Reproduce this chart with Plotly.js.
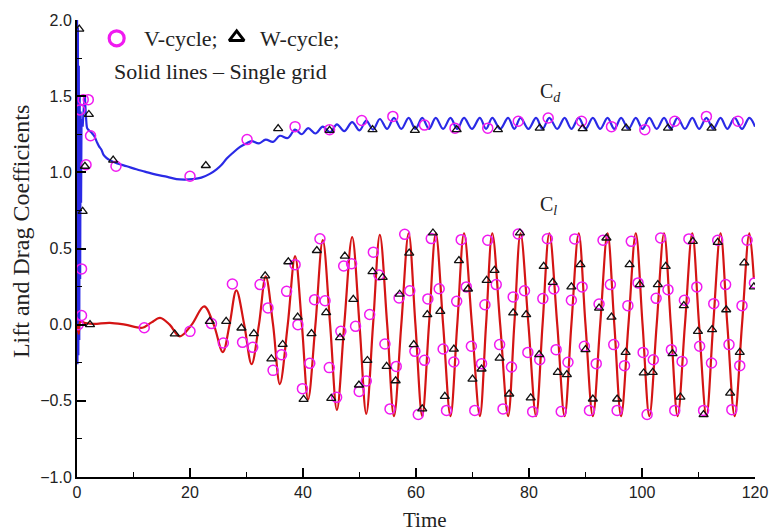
<!DOCTYPE html>
<html>
<head>
<meta charset="utf-8">
<script src="https://cdn.plot.ly/plotly-3.0.1.min.js"></script>
<style>html,body{margin:0;padding:0;background:#fff;}#chart{width:770px;height:532px;}</style>
</head>
<body>
<div id="chart"></div>
<script>
// ---- Cl (lift) curve, single grid: extrema and zero crossings
var clT = [0, 0.3, 0.6, 1.5, 3.0, 5.8, 8.5, 11.6, 13.2, 14.7, 16.4, 18.2, 20.3, 22.5, 24.2, 25.8, 27.0, 28.2, 29.6, 30.9,
  32.2, 33.4, 34.7, 35.9, 37.3, 38.6, 39.8, 40.9, 42.2, 43.5, 44.8, 46.0, 47.3, 48.7, 50.0, 51.2, 52.4, 53.6, 54.9, 56.1,
  57.4, 58.7, 59.9, 61.1, 62.3, 63.5, 64.8, 66.1, 67.3, 68.5, 69.9, 71.3, 72.4, 73.5, 74.9, 76.3, 77.4, 78.5, 79.9, 81.25,
  82.4, 83.6, 85.0, 86.3, 87.5, 88.8, 90.0, 91.3, 92.6, 93.9, 95.1, 96.3, 97.6, 98.9, 100.1, 101.3, 102.6, 103.9, 105.1, 106.3,
  107.6, 108.9, 110.1, 111.4, 112.6, 113.9, 115.1, 116.4, 117.7, 119.0, 119.8];
var clV = [0, -0.06, 0.02, 0.01, 0.005, 0.012, 0.0, -0.02, 0.015, 0.045, 0, -0.077, 0, 0.12, 0, -0.18, 0, 0.225, 0, -0.26,
  0, 0.317, 0, -0.39, 0, 0.45, 0, -0.49, 0, 0.555, 0, -0.56, 0, 0.575, 0, -0.585, 0, 0.59, 0, -0.60,
  0, 0.60, 0, -0.60, 0, 0.60, 0, -0.60, 0, 0.60, 0, -0.60, 0, 0.60, 0, -0.60, 0, 0.60, 0, -0.60,
  0, 0.60, 0, -0.60, 0, 0.60, 0, -0.60, 0, 0.60, 0, -0.60, 0, 0.60, 0, -0.60, 0, 0.60, 0, -0.60,
  0, 0.60, 0, -0.60, 0, 0.60, 0, -0.60, 0, 0.60, 0.30];

// ---- Cd (drag) curve: impulsive-start spike, then the smooth part
var cdSpikeT = [0, 0.08, 0.16, 0.24, 0.32, 0.4, 0.48, 0.56, 0.64, 0.72, 0.8, 1.0, 1.2, 1.4];
var cdSpikeV = [2.3, -0.26, 1.95, -0.2, 1.7, -0.1, 1.5, 0.3, 1.4, 0.8, 1.35, 1.3, 1.42, 1.50];
var cdT = [1.4, 1.6, 1.8, 2.0, 2.3, 2.7, 3.1, 3.5, 3.9, 4.3, 4.7, 5.2, 5.8, 7.0, 8.8, 10.5, 12.0, 14.0, 16.0, 17.6,
  19.0, 20.5, 22.0, 23.5, 24.7, 25.6, 26.5, 27.5, 28.8, 30.0, 30.9, 32.2, 33.4, 34.7, 35.9, 37.3, 38.6, 39.8, 40.9, 42.2,
  43.5, 44.8, 46.0, 47.3, 48.7, 50.0, 51.2, 52.4, 53.6, 54.9, 56.1, 57.4, 58.7, 59.9, 61.1, 62.3, 63.5, 64.8, 66.1, 67.3,
  68.5, 69.9, 71.3, 72.4, 73.5, 74.9, 76.3, 77.4, 78.5, 79.9, 81.25, 82.4, 83.6, 85.0, 86.3, 87.5, 88.8, 90.0, 91.3, 92.6,
  93.9, 95.1, 96.3, 97.6, 98.9, 100.1, 101.3, 102.6, 103.9, 105.1, 106.3, 107.6, 108.9, 110.1, 111.4, 112.6, 113.9, 115.1, 116.4, 117.7,
  119.0, 120.0];
var cdV = [1.50, 1.36, 1.29, 1.28, 1.27, 1.255, 1.235, 1.20, 1.17, 1.15, 1.115, 1.095, 1.08, 1.06, 1.04, 1.02, 1.005, 0.985, 0.97, 0.955,
  0.952, 0.955, 0.965, 0.99, 1.02, 1.05, 1.09, 1.125, 1.165, 1.19, 1.205, 1.19, 1.215, 1.20, 1.24, 1.225, 1.28, 1.25, 1.29, 1.255,
  1.30, 1.262, 1.315, 1.27, 1.33, 1.275, 1.34, 1.28, 1.35, 1.285, 1.357, 1.285, 1.357, 1.285, 1.357, 1.285, 1.357, 1.285, 1.357, 1.285,
  1.357, 1.285, 1.357, 1.285, 1.357, 1.285, 1.357, 1.285, 1.357, 1.285, 1.357, 1.285, 1.357, 1.285, 1.357, 1.285, 1.357, 1.285, 1.357, 1.285,
  1.357, 1.285, 1.357, 1.285, 1.357, 1.285, 1.357, 1.285, 1.357, 1.285, 1.357, 1.285, 1.357, 1.285, 1.357, 1.285, 1.357, 1.285, 1.357, 1.285,
  1.357, 1.30];

// ---- V-cycle markers (circles)
var clVcycT = [0.2, 0.8, 0.8, 11.9, 20.0, 23.8, 25.9, 27.5, 29.3, 31.1, 32.4, 33.8, 34.7, 36.2, 37.1, 38.6, 39.1, 39.9, 41.2, 42.05,
  43.0, 43.9, 44.65, 45.95, 46.7, 47.2, 48.6, 49.3, 49.95, 51.2, 51.8, 52.45, 53.45, 54.5, 55.4, 56.5, 57.0, 58.0, 58.9, 59.8,
  60.4, 61.5, 62.1, 62.7, 64.1, 64.8, 65.4, 66.7, 67.2, 68.0, 68.9, 69.8, 70.4, 71.6, 72.2, 72.7, 74.2, 74.8, 75.4, 76.9,
  77.2, 78.1, 79.2, 79.8, 80.65, 81.9, 82.45, 83.25, 84.4, 84.8, 85.7, 86.9, 87.5, 88.1, 89.4, 89.8, 90.7, 91.9, 92.4, 93.1,
  94.4, 95.0, 95.6, 96.9, 97.5, 98.1, 99.3, 100.2, 100.9, 102.0, 102.5, 103.3, 104.6, 105.2, 105.8, 107.1, 107.5, 108.3, 109.7, 110.2,
  110.9, 112.3, 112.7, 113.4, 114.8, 115.4, 115.9, 117.3, 117.7, 118.6, 119.9];
var clVcycV = [0.0, 0.06, 0.366, -0.02, -0.044, 0.007, -0.12, 0.267, -0.116, -0.149, 0.263, 0.11, -0.30, -0.197, 0.219, 0.394, 0.0, -0.42, -0.254, 0.164,
  0.564, 0.157, -0.282, -0.477, -0.044, 0.385, 0.40, -0.011, -0.438, -0.37, 0.067, 0.476, 0.326, -0.127, -0.553, -0.274, 0.175, 0.593, 0.223, -0.175,
  -0.59, -0.234, 0.169, 0.565, 0.236, -0.16, -0.563, -0.245, 0.153, 0.558, 0.248, -0.142, -0.563, -0.256, 0.131, 0.554, 0.263, -0.131, -0.553, -0.278,
  0.182, 0.595, 0.223, -0.182, -0.571, -0.23, 0.171, 0.564, 0.234, -0.164, -0.57, -0.247, 0.16, 0.563, 0.248, -0.142, -0.563, -0.256, 0.136, 0.554,
  0.263, -0.131, -0.563, -0.269, 0.125, 0.547, 0.274, -0.182, -0.59, -0.23, 0.173, 0.569, 0.23, -0.164, -0.563, -0.241, 0.16, 0.563, 0.248, -0.142,
  -0.563, -0.252, 0.138, 0.554, 0.263, -0.131, -0.558, -0.269, 0.125, 0.554, 0.274];
var cdVcycT = [0.5, 1.1, 2.0, 2.4, 1.6, 6.9, 20.0, 30.1, 38.6, 44.7, 50.4, 55.9, 61.5, 66.9, 72.7, 78.1, 83.4, 89.3, 94.6, 100.5, 105.8, 111.4, 117.0];
var cdVcycV = [1.41, 1.477, 1.477, 1.24, 1.05, 1.04, 0.974, 1.215, 1.30, 1.28, 1.34, 1.367, 1.31, 1.29, 1.29, 1.335, 1.357, 1.335, 1.30, 1.28, 1.335, 1.367, 1.335];

// ---- W-cycle markers (triangles)
var clWcycT = [1.0, 2.3, 17.3, 23.5, 26.4, 29.1, 31.3, 33.3, 34.4, 36.4, 37.4, 39.05, 40.1, 41.5, 42.45, 44.1, 45.0, 46.55, 47.4, 48.9,
  49.9, 51.4, 52.3, 54.1, 54.8, 56.4, 57.1, 58.8, 59.6, 61.1, 62.0, 63.0, 64.3, 65.1, 66.7, 67.6, 69.2, 70.0, 71.6, 72.5,
  73.9, 74.8, 76.5, 77.2, 78.4, 79.5, 80.3, 81.8, 82.6, 84.2, 85.1, 86.7, 87.5, 89.1, 90.0, 91.3, 92.4, 93.7, 94.6, 95.6,
  97.1, 97.8, 99.6, 100.3, 101.9, 102.8, 104.2, 105.4, 106.8, 107.4, 109.0, 109.9, 110.9, 112.4, 113.4, 114.9, 115.6, 117.3, 118.1, 119.8];
var clWcycV = [0.744, 0.0, -0.061, 0.022, 0.022, -0.022, -0.059, 0.32, -0.224, -0.13, 0.413, 0.05, -0.49, -0.059, 0.487, 0.079, -0.484, -0.085, 0.45, 0.166,
  -0.396, -0.235, 0.348, 0.311, -0.274, -0.368, 0.2, 0.47, -0.131, -0.553, 0.066, 0.602, 0.087, -0.471, -0.16, 0.42, 0.234, -0.357, -0.291, 0.291,
  0.356, -0.219, -0.455, 0.077, 0.602, 0.066, -0.481, -0.197, 0.383, 0.278, -0.313, -0.328, 0.248, 0.394, -0.164, -0.488, 0.109, 0.569, 0.05, -0.488,
  -0.182, 0.394, 0.263, -0.317, -0.313, 0.263, 0.383, -0.19, -0.475, 0.125, 0.547, -0.044, -0.59, -0.033, 0.54, 0.098, -0.449, -0.182, 0.405, 0.248];
var cdWcycT = [0.4, 2.1, 1.4, 6.4, 22.8, 35.6, 44.7, 52.3, 59.8, 67.2, 74.5, 81.9, 89.5, 97.2, 104.6, 112.3];
var cdWcycV = [1.94, 1.38, 1.04, 1.08, 1.045, 1.287, 1.276, 1.28, 1.276, 1.28, 1.28, 1.29, 1.287, 1.29, 1.29, 1.29];

// ---- text
var xTitle = 'Time';
var yTitle = 'Lift and Drag Coefficients';
var legendV = 'V-cycle;';
var legendW = 'W-cycle;';
var legendLine = 'Solid lines \u2013 Single grid';

var MAG = '#f01af0', BLUE = '#2a2ae6', RED = '#d41414';
var serif = 'Liberation Serif, Times New Roman, serif';
var sans = 'Liberation Sans, Arial, sans-serif';

var traces = [
  {x: cdSpikeT, y: cdSpikeV, mode: 'lines', line: {color: BLUE, width: 2.2}, hoverinfo: 'skip'},
  {x: cdT, y: cdV, mode: 'lines', line: {color: BLUE, width: 2.2, shape: 'spline', smoothing: 1}},
  {x: clT, y: clV, mode: 'lines', line: {color: RED, width: 2.2, shape: 'spline', smoothing: 1}},
  {x: cdVcycT, y: cdVcycV, mode: 'markers', marker: {symbol: 'circle-open', size: 10, color: MAG, line: {width: 1.5, color: MAG}}},
  {x: clVcycT, y: clVcycV, mode: 'markers', marker: {symbol: 'circle-open', size: 10, color: MAG, line: {width: 1.5, color: MAG}}},
  {x: cdWcycT, y: cdWcycV, mode: 'markers', marker: {symbol: 'triangle-up-open', size: 8, color: '#111', line: {width: 1.3, color: '#111'}}},
  {x: clWcycT, y: clWcycV, mode: 'markers', marker: {symbol: 'triangle-up-open', size: 8, color: '#111', line: {width: 1.3, color: '#111'}}},
  // legend key symbols on a hidden overlay axis
  {x: [0.0585], y: [0.960], xaxis: 'x2', yaxis: 'y2', mode: 'markers', marker: {symbol: 'circle-open', size: 15, color: MAG, line: {width: 3.2, color: MAG}}},
  {x: [0.2355], y: [0.962], xaxis: 'x2', yaxis: 'y2', mode: 'markers', marker: {symbol: 'triangle-up-open', size: 13, color: '#000', line: {width: 3, color: '#000'}}}
];

var axBase = {
  showgrid: false, zeroline: false, showline: true, linecolor: '#000', linewidth: 2,
  ticks: 'inside', ticklen: 9, tickwidth: 2, tickcolor: '#000',
  tickfont: {family: sans, size: 16, color: '#222'},
  minor: {ticks: 'inside', ticklen: 5, tickwidth: 1, tickcolor: '#000'}
};

var layout = {
  width: 770, height: 532,
  margin: {l: 77, r: 15, t: 20, b: 55},
  paper_bgcolor: '#fff', plot_bgcolor: '#fff',
  showlegend: false,
  xaxis: Object.assign({}, axBase, {range: [0, 120], dtick: 20, tick0: 0, minor: Object.assign({}, axBase.minor, {dtick: 10})}),
  yaxis: Object.assign({}, axBase, {range: [-1, 2], dtick: 0.5, tick0: 0, tickformat: '.1f', minor: Object.assign({}, axBase.minor, {dtick: 0.25})}),
  xaxis2: {overlaying: 'x', range: [0, 1], visible: false},
  yaxis2: {overlaying: 'y', range: [0, 1], visible: false},
  annotations: [
    {text: yTitle, xref: 'paper', yref: 'paper', x: -0.0825, y: 0.536, textangle: -90, showarrow: false, xanchor: 'center', yanchor: 'middle', font: {family: serif, size: 24, color: '#222'}},
    {text: xTitle, xref: 'paper', yref: 'paper', x: 0.513, y: -0.094, showarrow: false, xanchor: 'center', yanchor: 'middle', font: {family: serif, size: 21, color: '#222'}},
    {text: legendV, xref: 'paper', yref: 'paper', x: 0.0954, y: 0.9606, showarrow: false, xanchor: 'left', yanchor: 'middle', font: {family: serif, size: 22, color: '#222'}},
    {text: legendW, xref: 'paper', yref: 'paper', x: 0.267, y: 0.9606, showarrow: false, xanchor: 'left', yanchor: 'middle', font: {family: serif, size: 22, color: '#222'}},
    {text: legendLine, xref: 'paper', yref: 'paper', x: 0.0512, y: 0.887, showarrow: false, xanchor: 'left', yanchor: 'middle', font: {family: serif, size: 22, color: '#222'}},
    {text: 'C<sub><i>d</i></sub>', xref: 'paper', yref: 'paper', x: 0.699, y: 0.842, showarrow: false, xanchor: 'center', yanchor: 'middle', font: {family: serif, size: 20, color: '#222'}},
    {text: 'C<sub><i>l</i></sub>', xref: 'paper', yref: 'paper', x: 0.696, y: 0.595, showarrow: false, xanchor: 'center', yanchor: 'middle', font: {family: serif, size: 20, color: '#222'}}
  ]
};

Plotly.newPlot('chart', traces, layout, {displayModeBar: false, staticPlot: true});
</script>
</body>
</html>
